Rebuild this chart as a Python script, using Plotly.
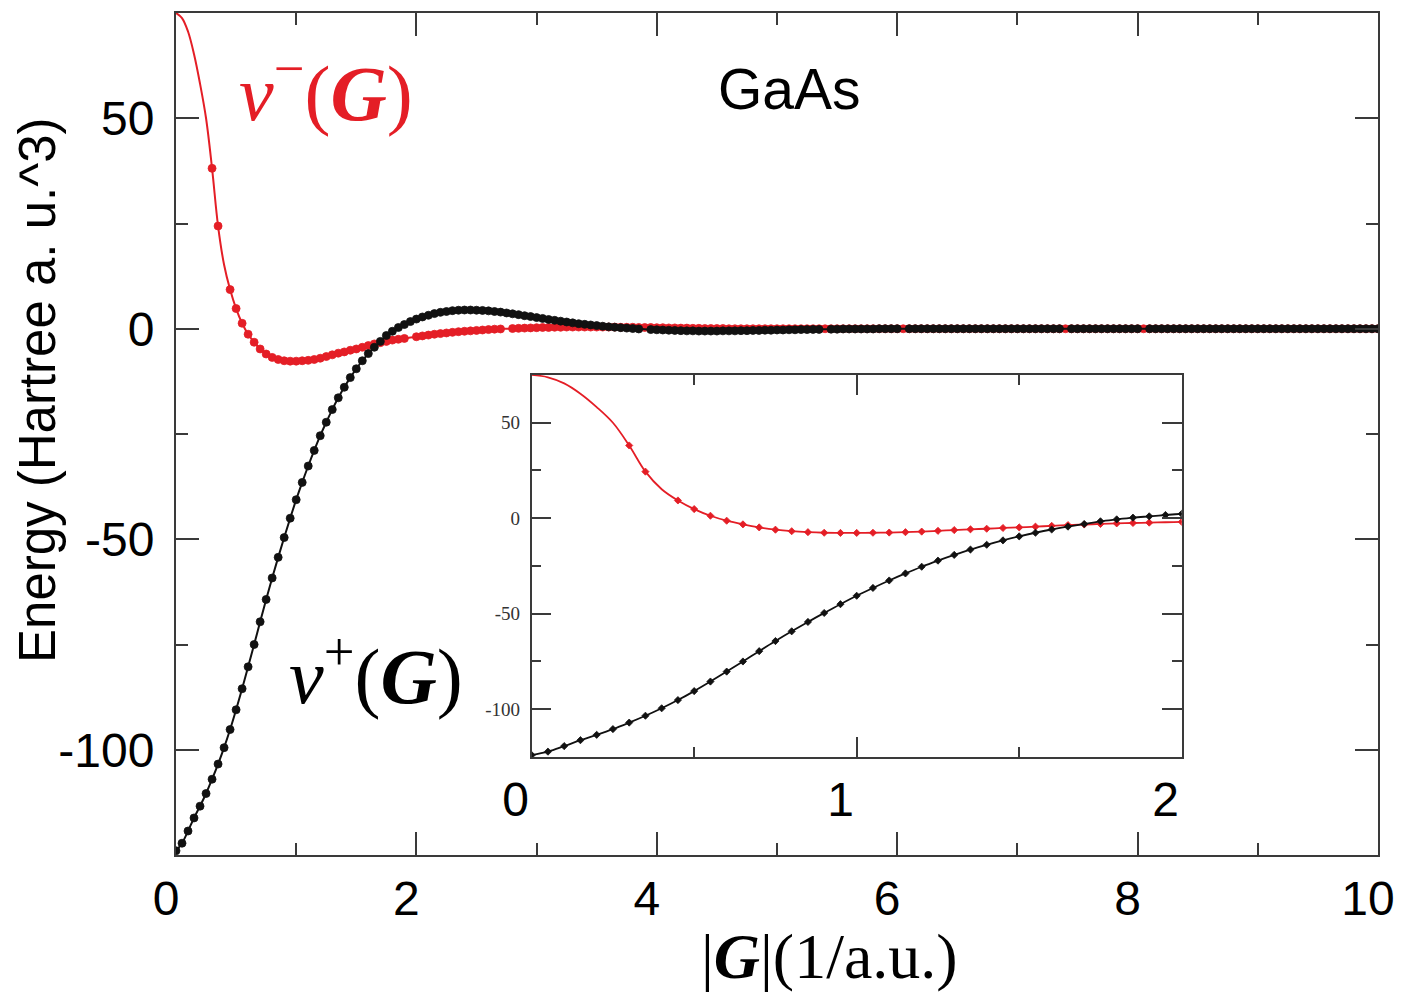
import plotly.graph_objects as go

# |G| grid (1/a.u.)
G = [
    0.00, 0.05, 0.10, 0.15, 0.20, 0.25, 0.30, 0.35, 0.40, 0.45,
    0.50, 0.55, 0.60, 0.65, 0.70, 0.75, 0.80, 0.85, 0.90, 0.95,
    1.00, 1.05, 1.10, 1.15, 1.20, 1.25, 1.30, 1.35, 1.40, 1.45,
    1.50, 1.55, 1.60, 1.65, 1.70, 1.75, 1.80, 1.85, 1.90, 1.95,
    2.00, 2.05, 2.10, 2.15, 2.20, 2.25, 2.30, 2.35, 2.40, 2.45,
    2.50, 2.55, 2.60, 2.65, 2.70, 2.75, 2.80, 2.85, 2.90, 2.95,
    3.00, 3.05, 3.10, 3.15, 3.20, 3.25, 3.30, 3.35, 3.40, 3.45,
    3.50, 3.55, 3.60, 3.65, 3.70, 3.75, 3.80, 3.85, 3.90, 3.95,
    4.00, 4.05, 4.10, 4.15, 4.20, 4.25, 4.30, 4.35, 4.40, 4.45,
    4.50, 4.55, 4.60, 4.65, 4.70, 4.75, 4.80, 4.85, 4.90, 4.95,
    5.00, 5.05, 5.10, 5.15, 5.20, 5.25, 5.30, 5.35, 5.40, 5.45,
    5.50, 5.55, 5.60, 5.65, 5.70, 5.75, 5.80, 5.85, 5.90, 5.95,
    6.00, 6.05, 6.10, 6.15, 6.20, 6.25, 6.30, 6.35, 6.40, 6.45,
    6.50, 6.55, 6.60, 6.65, 6.70, 6.75, 6.80, 6.85, 6.90, 6.95,
    7.00, 7.05, 7.10, 7.15, 7.20, 7.25, 7.30, 7.35, 7.40, 7.45,
    7.50, 7.55, 7.60, 7.65, 7.70, 7.75, 7.80, 7.85, 7.90, 7.95,
    8.00, 8.05, 8.10, 8.15, 8.20, 8.25, 8.30, 8.35, 8.40, 8.45,
    8.50, 8.55, 8.60, 8.65, 8.70, 8.75, 8.80, 8.85, 8.90, 8.95,
    9.00, 9.05, 9.10, 9.15, 9.20, 9.25, 9.30, 9.35, 9.40, 9.45,
    9.50, 9.55, 9.60, 9.65, 9.70, 9.75, 9.80, 9.85, 9.90, 9.95,
    10.00,
]

# v^+(G), Hartree a.u.^3
V_PLUS = [
    -124.0, -122.2, -119.3, -116.2, -113.4, -110.4, -107.0, -103.4, -99.5, -95.2,
    -90.5, -85.5, -80.3, -75.0, -69.6, -64.3, -59.2, -54.3, -49.6, -45.0,
    -40.6, -36.5, -32.6, -28.9, -25.4, -22.2, -19.2, -16.4, -13.9, -11.6,
    -9.5, -7.6, -5.9, -4.4, -3.0, -1.6, -0.6, 0.3, 1.0, 1.7,
    2.3, 2.8, 3.2, 3.6, 3.9, 4.1, 4.3, 4.4, 4.45, 4.45,
    4.4, 4.35, 4.25, 4.1, 3.95, 3.75, 3.55, 3.35, 3.1, 2.9,
    2.65, 2.45, 2.2, 2.0, 1.8, 1.6, 1.4, 1.2, 1.05, 0.9,
    0.75, 0.6, 0.45, 0.35, 0.25, 0.15, 0.05, -0.05, -0.1, -0.2,
    -0.25, -0.3, -0.35, -0.4, -0.45, -0.5, -0.5, -0.55, -0.55, -0.55,
    -0.55, -0.5, -0.5, -0.5, -0.45, -0.45, -0.4, -0.4, -0.35, -0.35,
    -0.3, -0.3, -0.25, -0.25, -0.2, -0.2, -0.15, -0.15, -0.1, -0.1,
    -0.1, -0.05, -0.05, -0.05, -0.05, -0.05, -0.05, 0.0, 0.0, 0.0,
    0.0, 0.0, 0.0, 0.0, 0.0, 0.0, 0.0, 0.0, 0.0, 0.0,
    0.0, 0.0, 0.0, 0.0, 0.0, 0.0, 0.0, 0.0, 0.0, 0.0,
    0.0, 0.0, 0.0, 0.0, 0.0, 0.0, 0.0, 0.0, 0.0, 0.0,
    0.0, 0.0, 0.0, 0.0, 0.0, 0.0, 0.0, 0.0, 0.0, 0.0,
    0.0, 0.0, 0.0, 0.0, 0.0, 0.0, 0.0, 0.0, 0.0, 0.0,
    0.0, 0.0, 0.0, 0.0, 0.0, 0.0, 0.0, 0.0, 0.0, 0.0,
    0.0, 0.0, 0.0, 0.0, 0.0, 0.0, 0.0, 0.0, 0.0, 0.0,
    0.0, 0.0, 0.0, 0.0, 0.0, 0.0, 0.0, 0.0, 0.0, 0.0,
    0.0,
]

# v^-(G), Hartree a.u.^3
V_MINUS = [
    75.0, 73.8, 70.6, 65.2, 58.2, 50.0, 38.1, 24.4, 15.2, 9.3,
    4.8, 1.3, -1.3, -3.2, -4.8, -6.0, -6.8, -7.3, -7.6, -7.7,
    -7.7, -7.6, -7.5, -7.3, -7.0, -6.6, -6.2, -5.8, -5.5, -5.1,
    -4.8, -4.4, -4.0, -3.6, -3.3, -3.0, -2.7, -2.5, -2.3, -2.1,
    -1.9, -1.7, -1.5, -1.3, -1.15, -1.0, -0.85, -0.7, -0.6, -0.5,
    -0.4, -0.3, -0.2, -0.1, -0.05, 0.0, 0.05, 0.1, 0.15, 0.2,
    0.25, 0.3, 0.3, 0.35, 0.35, 0.4, 0.4, 0.4, 0.4, 0.4,
    0.4, 0.4, 0.4, 0.4, 0.35, 0.35, 0.35, 0.3, 0.3, 0.3,
    0.25, 0.25, 0.2, 0.2, 0.15, 0.15, 0.1, 0.1, 0.05, 0.05,
    0.05, 0.05, 0.0, 0.0, 0.0, 0.0, 0.0, 0.0, 0.0, 0.0,
    0.0, 0.0, 0.0, 0.0, 0.0, 0.0, 0.0, 0.0, 0.0, 0.0,
    0.0, 0.0, 0.0, 0.0, 0.0, 0.0, 0.0, 0.0, 0.0, 0.0,
    0.0, 0.0, 0.0, 0.0, 0.0, 0.0, 0.0, 0.0, 0.0, 0.0,
    0.0, 0.0, 0.0, 0.0, 0.0, 0.0, 0.0, 0.0, 0.0, 0.0,
    0.0, 0.0, 0.0, 0.0, 0.0, 0.0, 0.0, 0.0, 0.0, 0.0,
    0.0, 0.0, 0.0, 0.0, 0.0, 0.0, 0.0, 0.0, 0.0, 0.0,
    0.0, 0.0, 0.0, 0.0, 0.0, 0.0, 0.0, 0.0, 0.0, 0.0,
    0.0, 0.0, 0.0, 0.0, 0.0, 0.0, 0.0, 0.0, 0.0, 0.0,
    0.0, 0.0, 0.0, 0.0, 0.0, 0.0, 0.0, 0.0, 0.0, 0.0,
    0.0, 0.0, 0.0, 0.0, 0.0, 0.0, 0.0, 0.0, 0.0, 0.0,
    0.0,
]

X_TICKS = [0, 2, 4, 6, 8, 10]
X_TICK_TEXT = ["0", "2", "4", "6", "8", "10"]
Y_TICKS = [-100, -50, 0, 50]
Y_TICK_TEXT = ["-100", "-50", "0", "50"]
INSET_X_TICKS = [0, 1, 2]
INSET_X_TICK_TEXT = ["0", "1", "2"]

RED = "#e41e26"
BLACK = "#111111"
FRAME = "#3a3a3a"

# grid points drawn without a symbol
RED_BARE = {0.0, 0.05, 0.1, 0.15, 0.2, 0.25, 0.4, 1.95, 2.75}
BLACK_BARE = {3.9, 5.4, 6.05, 7.4, 8.05}


def sizes(bare, size):
    return [0 if round(g, 2) in bare else size for g in G]


def marker(color, size_list, symbol="circle"):
    return dict(color=color, size=size_list, symbol=symbol, opacity=1,
                line=dict(width=0.8, color=color))


fig = go.Figure()

# main panel
fig.add_trace(go.Scatter(
    x=G, y=V_MINUS, mode="lines+markers", line=dict(color=RED, width=2, shape="spline", smoothing=1.0),
    marker=marker(RED, sizes(RED_BARE, 8)), xaxis="x", yaxis="y", showlegend=False))
fig.add_trace(go.Scatter(
    x=G, y=V_PLUS, mode="lines+markers", line=dict(color=BLACK, width=2, shape="spline", smoothing=1.0),
    marker=marker(BLACK, sizes(BLACK_BARE, 8)), xaxis="x", yaxis="y", showlegend=False))

# inset: zoom on 0 <= |G| <= 2
fig.add_trace(go.Scatter(
    x=G, y=V_MINUS, mode="lines+markers", line=dict(color=RED, width=1.8, shape="spline", smoothing=1.0),
    marker=marker(RED, sizes(RED_BARE, 5.5), "diamond"), xaxis="x2", yaxis="y2", showlegend=False))
fig.add_trace(go.Scatter(
    x=G, y=V_PLUS, mode="lines+markers", line=dict(color=BLACK, width=1.8, shape="spline", smoothing=1.0),
    marker=marker(BLACK, sizes(set(), 5.5), "diamond"), xaxis="x2", yaxis="y2", showlegend=False))

sans = "Liberation Sans, Arial, sans-serif"
serif = "Liberation Serif, Times New Roman, serif"

main_axis = dict(
    showline=True, linecolor=FRAME, linewidth=2, mirror="ticks",
    ticks="inside", tickcolor=FRAME, tickwidth=2, ticklen=23,
    showgrid=False, zeroline=False,
    tickfont=dict(family=sans, size=48, color="black"),
)

inset_axis = dict(
    showline=True, linecolor=FRAME, linewidth=1.5, mirror="ticks",
    ticks="inside", tickcolor=FRAME, tickwidth=1.5, ticklen=20,
    showgrid=False, zeroline=False,
)

fig.update_layout(
    width=1420, height=992,
    margin=dict(l=176, r=42, t=13, b=137),
    paper_bgcolor="white", plot_bgcolor="white",
    xaxis=dict(
        **main_axis, range=[0, 10], tickmode="array", tickvals=X_TICKS, ticktext=X_TICK_TEXT,
        minor=dict(tickvals=[1, 3, 5, 7, 9], ticks="inside", ticklen=12, tickcolor=FRAME, tickwidth=2),
        ticklabelshift=-10, ticklabelstandoff=0, domain=[0, 1],
    ),
    yaxis=dict(
        **main_axis, range=[-125, 75], tickmode="array", tickvals=Y_TICKS, ticktext=Y_TICK_TEXT,
        minor=dict(tickvals=[-125, -75, -25, 25, 75], ticks="inside", ticklen=12, tickcolor=FRAME, tickwidth=2),
        ticklabelstandoff=10, domain=[0, 1],
    ),
    xaxis2=dict(
        **inset_axis, range=[0, 2], anchor="y2", domain=[0.2959, 0.8367],
        tickmode="array", tickvals=INSET_X_TICKS, ticktext=INSET_X_TICK_TEXT,
        minor=dict(tickvals=[0.5, 1.5], ticks="inside", ticklen=10, tickcolor=FRAME, tickwidth=1.5),
        tickfont=dict(family=sans, size=48, color="black"), ticklabelshift=-16, ticklabelstandoff=0,
    ),
    yaxis2=dict(
        **inset_axis, range=[-125, 75], anchor="x2", domain=[0.1164, 0.5701],
        tickmode="array", tickvals=Y_TICKS, ticktext=Y_TICK_TEXT,
        minor=dict(tickvals=[-75, -25, 25], ticks="inside", ticklen=10, tickcolor=FRAME, tickwidth=1.5),
        tickfont=dict(family=serif, size=19, color="#333333"), ticklabelstandoff=6,
    ),
    annotations=[
        dict(text="Energy (Hartree a. u.^3)", x=-0.1148, y=0.5523, xref="paper", yref="paper",
             textangle=-90, showarrow=False, font=dict(family=sans, size=51, color="black"),
             xanchor="center", yanchor="middle"),
        dict(text="GaAs", x=0.5108, y=0.9097, xref="paper", yref="paper", showarrow=False,
             font=dict(family=sans, size=57, color="black"), xanchor="center", yanchor="middle"),
        dict(text="<i>v</i><sup>−</sup>(<b><i>G</i></b>)", x=0.1248, y=0.912, xref="paper", yref="paper",
             showarrow=False, font=dict(family=serif, size=78, color=RED), xanchor="center", yanchor="middle"),
        dict(text="<i>v</i><sup>+</sup>(<b><i>G</i></b>)", x=0.1664, y=0.2194, xref="paper", yref="paper",
             showarrow=False, font=dict(family=serif, size=78, color="black"), xanchor="center", yanchor="middle"),
        dict(text="|<b><i>G</i></b>|(1/a.u.)", x=0.5433, y=-0.121, xref="paper", yref="paper",
             showarrow=False, font=dict(family=serif, size=64, color="black"), xanchor="center", yanchor="middle"),
    ],
)

fig.write_html("out.html")
